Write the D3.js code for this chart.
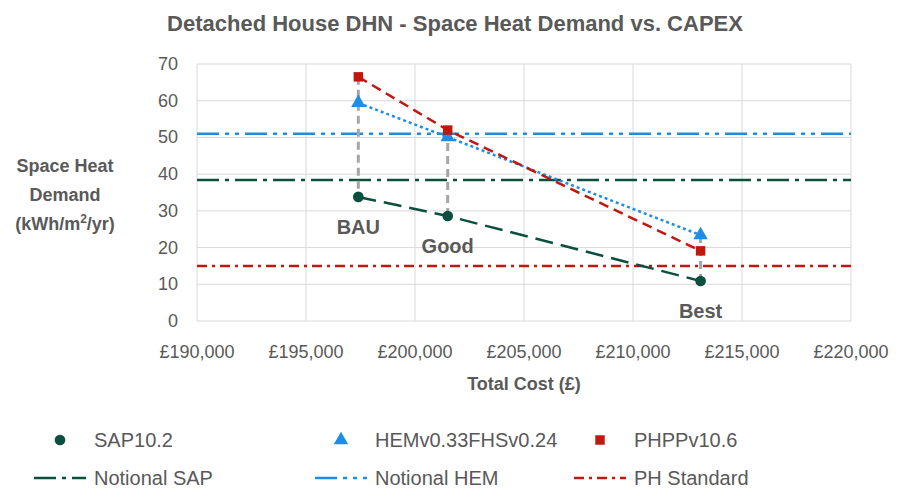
<!DOCTYPE html>
<html><head><meta charset="utf-8">
<script src="https://cdn.jsdelivr.net/npm/d3@7"></script>
<style>body{margin:0;background:#fff;font-family:"Liberation Sans",Arial,sans-serif}</style>
</head><body><svg id="c" width="911" height="497"></svg>
<script>
// chart values
const stages = ['BAU', 'Good', 'Best'];
const cost = [197400, 201500, 213100];
const sap = [33.8, 28.6, 10.9];
const hem = [59.4, 50.1, 23.4];
const phpp = [66.5, 52.0, 19.1];
const notionalSap = 38.4, notionalHem = 51.0, phStandard = 15;
const xTicks = d3.range(190000, 220001, 5000);
const yTicks = d3.range(0, 71, 10);

const svg = d3.select('#c');
const grey = '#595959';
const x = d3.scaleLinear().domain([190000, 220000]).range([197, 851]);
const y = d3.scaleLinear().domain([0, 70]).range([321, 64]);

svg.append('text').attr('x', 455).attr('y', 31).attr('text-anchor', 'middle')
  .attr('font-size', 22).attr('font-weight', 'bold').attr('fill', grey)
  .text('Detached House DHN - Space Heat Demand vs. CAPEX');

// grid
svg.append('g').selectAll('line').data(yTicks).join('line')
  .attr('x1', x.range()[0]).attr('x2', x.range()[1])
  .attr('y1', d => y(d)).attr('y2', d => y(d)).attr('stroke', '#d9d9d9');
svg.append('g').selectAll('line').data(xTicks).join('line')
  .attr('y1', y(0)).attr('y2', y(70))
  .attr('x1', d => x(d)).attr('x2', d => x(d)).attr('stroke', '#d9d9d9');

const fmt = d => '£' + d3.format(',')(d);
svg.append('g').selectAll('text').data(xTicks).join('text')
  .attr('x', d => x(d)).attr('y', 358).attr('text-anchor', 'middle')
  .attr('font-size', 18).attr('fill', grey).text(fmt);
svg.append('g').selectAll('text').data(yTicks).join('text')
  .attr('x', 178).attr('y', d => y(d) + 6).attr('text-anchor', 'end')
  .attr('font-size', 18).attr('fill', grey).text(d => d);

svg.append('text').attr('x', 524).attr('y', 390).attr('text-anchor', 'middle')
  .attr('font-size', 18).attr('font-weight', 'bold').attr('fill', grey).text('Total Cost (£)');
const yl = svg.append('text').attr('text-anchor', 'middle').attr('font-size', 18)
  .attr('font-weight', 'bold').attr('fill', grey);
yl.append('tspan').attr('x', 65).attr('y', 172).text('Space Heat');
yl.append('tspan').attr('x', 65).attr('y', 201).text('Demand');
const t3 = yl.append('tspan').attr('x', 65).attr('y', 230);
t3.append('tspan').text('(kWh/m');
t3.append('tspan').attr('font-size', 12).attr('dy', -7).text('2');
t3.append('tspan').attr('dy', 7).text('/yr)');

// reference lines
const refs = [
  {v: notionalSap, c: '#0b4f3f', d: '22,6,4,6'},
  {v: notionalHem, c: '#1f8de6', d: '22,6,4,6,4,6'},
  {v: phStandard, c: '#c0170e', d: '10,5,3,5'}
];
refs.forEach(r => svg.append('line').attr('x1', x.range()[0]).attr('x2', x.range()[1])
  .attr('y1', y(r.v)).attr('y2', y(r.v)).attr('stroke', r.c).attr('stroke-width', 2.5)
  .attr('stroke-dasharray', r.d));

// drop lines
const dropTop = cost.map((c, i) => i < 2 ? phpp[i] : hem[i]);
svg.append('g').selectAll('line').data(cost).join('line')
  .attr('x1', d => x(d)).attr('x2', d => x(d))
  .attr('y1', (d, i) => y(dropTop[i])).attr('y2', (d, i) => y(sap[i]))
  .attr('stroke', '#a6a6a6').attr('stroke-width', 3).attr('stroke-dasharray', '8,5');

const line = d3.line().x(d => x(d[0])).y(d => y(d[1]));
const series = [
  {v: sap, c: '#0b4f3f', d: '18,8', sym: d3.symbolCircle},
  {v: hem, c: '#1f8de6', d: '3,3', sym: d3.symbolTriangle},
  {v: phpp, c: '#c0170e', d: '10,6', sym: d3.symbolSquare}
];
series.forEach(s => {
  const pts = cost.map((c, i) => [c, s.v[i]]);
  svg.append('path').attr('d', line(pts)).attr('fill', 'none').attr('stroke', s.c)
    .attr('stroke-width', 2.5).attr('stroke-dasharray', s.d);
  svg.append('g').selectAll('path').data(pts).join('path')
    .attr('transform', d => `translate(${x(d[0])},${y(d[1])})`)
    .attr('d', d3.symbol(s.sym, 90)).attr('fill', s.c);
});

svg.append('g').selectAll('text').data(stages).join('text')
  .attr('x', (d, i) => x(cost[i])).attr('y', (d, i) => y(sap[i]) + 37)
  .attr('text-anchor', 'middle').attr('font-size', 20).attr('font-weight', 'bold')
  .attr('fill', grey).text(d => d);

// legend
const leg = [
  {t: 'SAP10.2', s: series[0], x: 60, y: 440},
  {t: 'HEMv0.33FHSv0.24', s: series[1], x: 341, y: 440},
  {t: 'PHPPv10.6', s: series[2], x: 600, y: 440},
  {t: 'Notional SAP', r: refs[0], x: 60, y: 478},
  {t: 'Notional HEM', r: refs[1], x: 341, y: 478},
  {t: 'PH Standard', r: refs[2], x: 600, y: 478}
];
leg.forEach(l => {
  if (l.s) {
    svg.append('path').attr('transform', `translate(${l.x},${l.y})`)
      .attr('d', d3.symbol(l.s.sym, 90)).attr('fill', l.s.c);
  } else {
    svg.append('line').attr('x1', l.x - 26).attr('x2', l.x + 26).attr('y1', l.y).attr('y2', l.y)
      .attr('stroke', l.r.c).attr('stroke-width', 2.5).attr('stroke-dasharray', l.r.d);
  }
  svg.append('text').attr('x', l.x + 34).attr('y', l.y + 7).attr('font-size', 20)
    .attr('fill', grey).text(l.t);
});
</script></body></html>
